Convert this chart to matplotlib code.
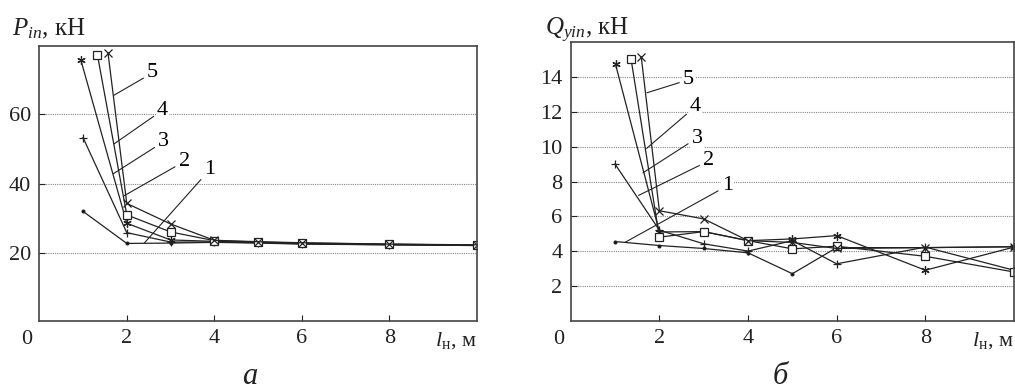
import matplotlib
matplotlib.use("Agg")
import matplotlib.pyplot as plt

plt.rcParams['font.family'] = ['Liberation Serif', 'DejaVu Serif']
plt.rcParams['mathtext.fontset'] = 'custom'
plt.rcParams['mathtext.rm'] = 'Liberation Serif'
plt.rcParams['mathtext.it'] = 'Liberation Serif:italic'

# --- данные: панель а (P_in, кН) ---
p_x1 = [1, 2, 3, 4, 5, 6, 8, 10]
p_y1 = [32.0, 22.8, 22.9, 23.1, 22.9, 22.6, 22.4, 22.2]
p_x2 = [1, 2, 3, 4, 5, 6, 8, 10]
p_y2 = [53.2, 25.9, 23.2, 23.2, 23.0, 22.7, 22.4, 22.2]
p_x3 = [0.95, 2, 3, 4, 5, 6, 8, 10]
p_y3 = [75.5, 28.6, 23.8, 23.4, 23.1, 22.8, 22.5, 22.3]
p_x4 = [1.33, 2, 3, 4, 5, 6, 8, 10]
p_y4 = [76.9, 31.0, 26.1, 23.6, 23.2, 22.9, 22.6, 22.3]
p_x5 = [1.57, 2, 3, 4, 5, 6, 8, 10]
p_y5 = [77.6, 34.3, 28.4, 23.7, 23.3, 23.0, 22.6, 22.4]

# --- данные: панель б (Q_yin, кН) ---
q_x1 = [1, 2, 3, 4, 5, 6, 8, 10]
q_y1 = [4.55, 4.32, 4.15, 3.9, 2.7, 4.2, 4.2, 4.25]
q_x2 = [1, 2, 3, 4, 5, 6, 8, 10]
q_y2 = [9.0, 5.2, 4.42, 4.0, 4.6, 3.27, 4.23, 2.9]
q_x3 = [1.01, 2, 3, 4, 5, 6, 8, 10]
q_y3 = [14.74, 5.1, 5.12, 4.6, 4.7, 4.89, 2.9, 4.23]
q_x4 = [1.36, 2, 3, 4, 5, 6, 8, 10]
q_y4 = [15.05, 4.8, 5.12, 4.6, 4.13, 4.28, 3.7, 2.8]
q_x5 = [1.59, 2, 3, 4, 5, 6, 8, 10]
q_y5 = [15.18, 6.32, 5.85, 4.6, 4.5, 4.15, 4.2, 4.25]

markers = ['.', '+', (6, 2, 0), 's', 'x']
curve_names = ['1', '2', '3', '4', '5']

# выноски: положение цифры и точка на кривой
p_text_xy = [(3.89, 43.9), (3.31, 46.3), (2.84, 52.0), (2.82, 61.1), (2.59, 71.8)]
p_point_xy = [(2.40, 22.9), (1.94, 36.5), (1.69, 42.8), (1.71, 51.4), (1.71, 65.4)]
q_text_xy = [(3.53, 7.75), (3.11, 9.18), (2.85, 10.5), (2.81, 12.3), (2.66, 13.85)]
q_point_xy = [(1.23, 4.51), (1.53, 7.2), (1.63, 8.5), (1.71, 9.9), (1.72, 13.1)]

p_ticks = [20, 40, 60]
q_ticks = [2, 4, 6, 8, 10, 12, 14]
x_ticks = [2, 4, 6, 8]

fig = plt.figure(figsize=(10.15, 3.91), dpi=100)
ax1 = fig.add_axes([0.0387, 0.1798, 0.431, 0.7033])
ax2 = fig.add_axes([0.5623, 0.1798, 0.4367, 0.712])


def draw_panel(ax, xs, ys, texts, points, yticks, ylim):
    for x, y, m in zip(xs, ys, markers):
        ms = 4 if m == '.' else 6
        mfc = 'white' if m == 's' else 'black'
        ax.plot(x, y, color='#222222', lw=0.9, marker=m, ms=ms,
                mec='#222222', mfc=mfc, mew=0.9)
    for name, t, p in zip(curve_names, texts, points):
        ax.annotate(name, xy=p, xytext=t, fontsize=16, ha='center', va='center',
                    bbox=dict(boxstyle='square,pad=0.05', fc='white', ec='none'),
                    arrowprops=dict(arrowstyle='-', lw=0.8, color='#222222',
                                    shrinkA=2, shrinkB=0))
    ax.set_xlim(0, 10)
    ax.set_ylim(*ylim)
    ax.set_xticks(x_ticks)
    ax.set_yticks(yticks)
    ax.tick_params(direction='in', length=4, labelsize=16, colors='#222222',
                   pad=6)
    ax.grid(axis='y', color='#888888', ls=(0, (1, 1)), lw=0.8)
    ax.set_axisbelow(True)
    for s in ax.spines.values():
        s.set_color('#444444')
        s.set_linewidth(1.2)
    ax.text(-0.028, -0.035, '0', transform=ax.transAxes, fontsize=16,
            ha='center', va='top', color='#222222')
    ax.text(1.0, -0.035, '$l_{\\mathrm{н}}$, м', transform=ax.transAxes,
            fontsize=16, ha='right', va='top', color='#222222')


draw_panel(ax1, [p_x1, p_x2, p_x3, p_x4, p_x5], [p_y1, p_y2, p_y3, p_y4, p_y5],
           p_text_xy, p_point_xy, p_ticks, (0.6, 79.6))
draw_panel(ax2, [q_x1, q_x2, q_x3, q_x4, q_x5], [q_y1, q_y2, q_y3, q_y4, q_y5],
           q_text_xy, q_point_xy, q_ticks, (0, 16))

# подписи осей Y и буквы панелей
fig.text(12 / 1015, 1 - 35 / 391, '$P_{in}$, кН', fontsize=18,
         ha='left', va='baseline', color='#222222')
fig.text(545 / 1015, 1 - 35 / 391, '$Q_{yin}$, кН', fontsize=18,
         ha='left', va='baseline', color='#222222')
fig.text(250 / 1015, 1 - 384 / 391, 'а', fontsize=22, style='italic',
         ha='center', va='baseline', color='#222222')
fig.text(780 / 1015, 1 - 384 / 391, 'б', fontsize=22, style='italic',
         ha='center', va='baseline', color='#222222')

fig.savefig('out.png', dpi=100)
